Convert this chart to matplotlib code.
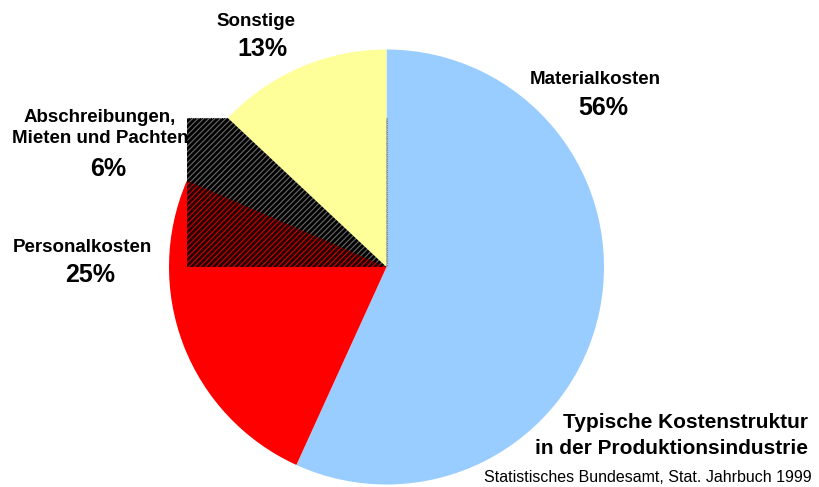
import matplotlib
matplotlib.use("Agg")
import matplotlib.pyplot as plt
from matplotlib.patches import Rectangle
import numpy as np

plt.rcParams['font.family'] = ['Liberation Sans', 'DejaVu Sans']
plt.rcParams['hatch.linewidth'] = 0.8

categories = ["Materialkosten", "Personalkosten", "Abschreibungen,\nMieten und Pachten", "Sonstige"]
values = [56.8, 24.7, 5.5, 13.0]
pct_labels = ["56%", "25%", "6%", "13%"]
colors = ["#99CCFF", "#FF0000", "#000000", "#FFFF99"]

W, H = 819, 487
fig = plt.figure(figsize=(W / 100, H / 100), dpi=100)
ax = fig.add_axes([0, 0, 1, 1])

cx, cy, R = 386.5, H - 267, 217.5
wedges, _ = ax.pie(values, colors=colors, startangle=90, counterclock=False,
                   center=(cx, cy), radius=R, frame=True,
                   wedgeprops=dict(linewidth=0))
ax.set_xlim(0, W)
ax.set_ylim(0, H)
ax.axis("off")

wedges[0].set_zorder(2)
wedges[1].set_zorder(2)
wedges[3].set_zorder(6)
wb = wedges[2]
wb.set_hatch("//////")
wb.set_edgecolor("#6a6a6a")
wb.set_zorder(5)

t1, t2 = np.radians(wb.theta1), np.radians(wb.theta2)
xs = [cx, cx + R * np.cos(t1), cx + R * np.cos(t2)]
ys = [cy, cy + R * np.sin(t1), cy + R * np.sin(t2)]
x0, x1, y0, y1 = min(xs), max(xs), min(ys), max(ys)

box = Rectangle((x0, y0), x1 - x0, y1 - y0, facecolor="black", edgecolor="#6a6a6a",
                hatch="//////", linewidth=0, zorder=1)
ax.add_patch(box)
ov = Rectangle((x0, y0), x1 - x0, y1 - y0, facecolor=(0, 0, 0, 0.85), edgecolor="#d00000",
               hatch="//////", linewidth=0, zorder=3)
ax.add_patch(ov)
ov.set_clip_path(wedges[1])
ax.plot([x0, x1, x1], [y1, y1, y0], color="#808080", lw=0.8, ls=(0, (1, 1)), zorder=4)

def P(x, y):
    return x, H - y

lab_kw = dict(fontsize=13.5, fontweight="bold", ha="center", va="center", zorder=10)
pct_kw = dict(fontsize=18, fontweight="bold", ha="center", va="center", zorder=10)

ax.text(*P(595, 80), categories[0], **lab_kw)
ax.text(*P(603, 108), pct_labels[0], **pct_kw)
ax.text(*P(82, 248), categories[1], **lab_kw)
ax.text(*P(90, 275), pct_labels[1], **pct_kw)
ax.text(*P(100, 128), categories[2], linespacing=1.35, **lab_kw)
ax.text(*P(108, 169), pct_labels[2], **pct_kw)
ax.text(*P(256, 22), categories[3], **lab_kw)
ax.text(*P(262, 49), pct_labels[3], **pct_kw)

ax.text(*P(808, 423), "Typische Kostenstruktur", fontsize=15, fontweight="bold",
        ha="right", va="center", zorder=10)
ax.text(*P(808, 449), "in der Produktionsindustrie", fontsize=15, fontweight="bold",
        ha="right", va="center", zorder=10)
ax.text(*P(812, 478), "Statistisches Bundesamt, Stat. Jahrbuch 1999", fontsize=11.5,
        ha="right", va="center", zorder=10)

fig.savefig("out.png", dpi=100)
